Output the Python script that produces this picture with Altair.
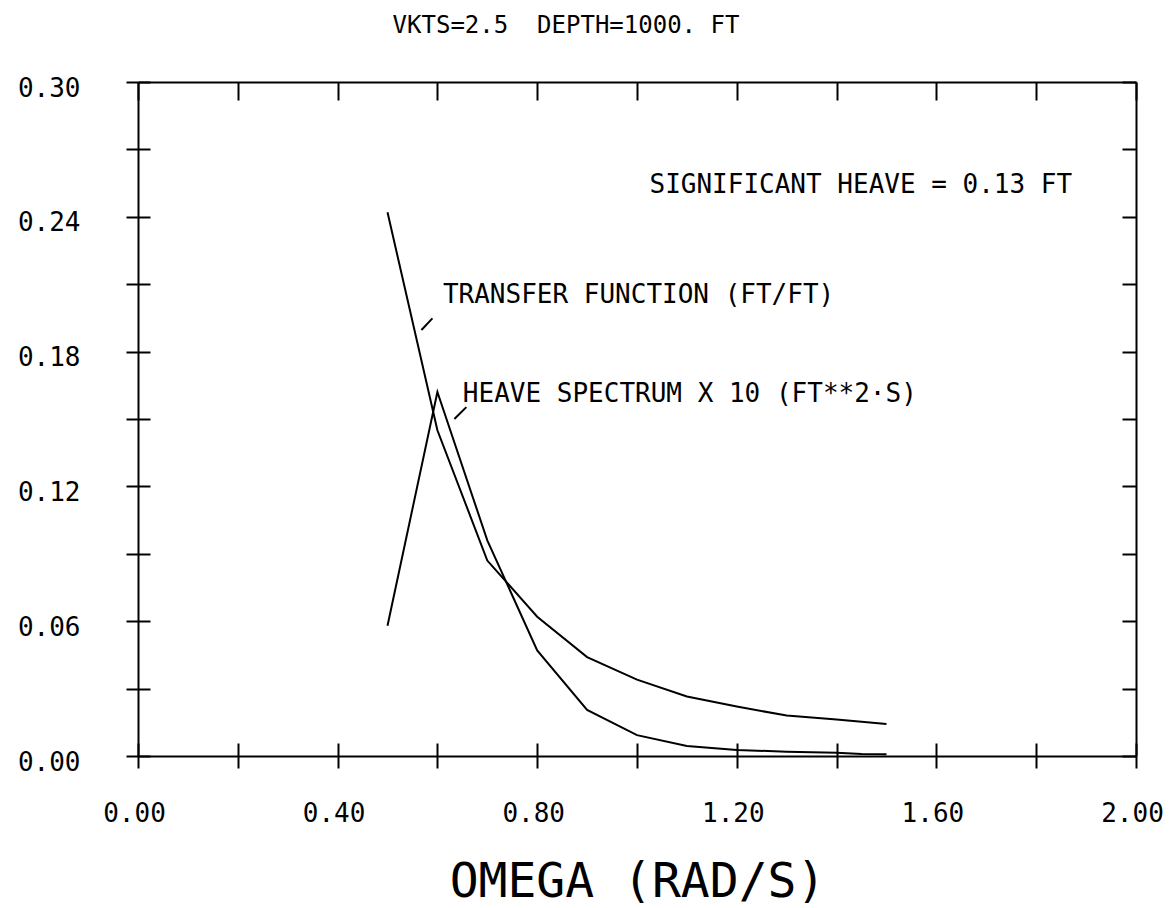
import altair as alt
import pandas as pd

# ---- data ----
tf_omega = [0.5, 0.6, 0.7, 0.8, 0.9, 1.0, 1.1, 1.2, 1.3, 1.4, 1.5]
tf_value = [0.242, 0.145, 0.087, 0.062, 0.044, 0.034, 0.0265, 0.022, 0.018, 0.0163, 0.0142]

hv_omega = [0.5, 0.6, 0.7, 0.8, 0.9, 1.0, 1.1, 1.2, 1.3, 1.4, 1.45, 1.5]
hv_value = [0.058, 0.162, 0.096, 0.047, 0.0205, 0.0093, 0.0045, 0.0027, 0.0019, 0.0015, 0.0009, 0.0008]

x_ticks = [0.0, 0.2, 0.4, 0.6, 0.8, 1.0, 1.2, 1.4, 1.6, 1.8, 2.0]
y_ticks = [0.0, 0.03, 0.06, 0.09, 0.12, 0.15, 0.18, 0.21, 0.24, 0.27, 0.30]

label_text = ["TRANSFER FUNCTION (FT/FT)", "HEAVE SPECTRUM X 10 (FT**2\u00b7S)"]
label_x = [0.611, 0.651]
label_y = [0.2016, 0.1575]

leader_x = [0.568, 0.634]
leader_x2 = [0.590, 0.658]
leader_y = [0.1896, 0.1500]
leader_y2 = [0.1948, 0.1553]

sig_text = ["SIGNIFICANT HEAVE = 0.13 FT"]
sig_x = [1.872]
sig_y = [0.2505]

title_text = "VKTS=2.5\u00a0\u00a0DEPTH=1000.\u00a0FT"

FONT = "DejaVu Sans Mono"

lines_df = pd.concat([
    pd.DataFrame({"omega": tf_omega, "value": tf_value, "series": "Transfer function"}),
    pd.DataFrame({"omega": hv_omega, "value": hv_value, "series": "Heave spectrum x 10"}),
])
labels_df = pd.DataFrame({"text": label_text, "x": label_x, "y": label_y})
leaders_df = pd.DataFrame({"x": leader_x, "x2": leader_x2, "y": leader_y, "y2": leader_y2})
sig_df = pd.DataFrame({"text": sig_text, "x": sig_x, "y": sig_y})

xscale = alt.Scale(domain=[0, 2.0], nice=False, zero=False)
yscale = alt.Scale(domain=[0, 0.30], nice=False, zero=False)

x_label_expr = "round(datum.value*10) % 4 == 0 ? format(datum.value, '.2f') : ''"
y_label_expr = "round(datum.value*100) % 6 == 0 ? format(datum.value, '.2f') : ''"

common_axis = dict(
    domain=True, domainColor="black", domainWidth=2, domainOpacity=1,
    tickColor="black", tickWidth=2,
    grid=True, gridColor="black", gridWidth=2, gridOpacity=1,
    labelFont=FONT, labelFontSize=26, labelColor="black",
    labelFlush=False,
)

x_bottom = alt.Axis(
    orient="bottom", values=x_ticks, labelExpr=x_label_expr,
    tickSize=12, gridDash=[18, 4000], labelPadding=32, labelOffset=-4,
    title="OMEGA (RAD/S)", titleFont=FONT, titleFontSize=48,
    titleFontWeight="normal", titleColor="black", titlePadding=32,
    **common_axis,
)
y_left = alt.Axis(
    orient="left", values=y_ticks, labelExpr=y_label_expr,
    tickSize=12, gridDash=[12, 4000], labelPadding=46, labelOffset=6,
    title=None, **common_axis,
)
x_top = alt.Axis(
    orient="top", values=x_ticks, labels=False, ticks=False,
    gridDash=[13, 4000], title=None, **common_axis,
)
y_right = alt.Axis(
    orient="right", values=y_ticks, labels=False, ticks=False,
    gridDash=[14, 4000], title=None, **common_axis,
)

lines = alt.Chart(lines_df).mark_line(color="black", strokeWidth=2).encode(
    x=alt.X("omega:Q", scale=xscale, axis=x_bottom),
    y=alt.Y("value:Q", scale=yscale, axis=y_left),
    detail="series:N",
)

leaders = alt.Chart(leaders_df).mark_rule(color="black", strokeWidth=2).encode(
    x=alt.X("x:Q", scale=xscale, axis=x_top),
    x2="x2:Q",
    y=alt.Y("y:Q", scale=yscale, axis=y_right),
    y2="y2:Q",
)

labels = alt.Chart(labels_df).mark_text(
    align="left", baseline="alphabetic", font=FONT, fontSize=26, color="black"
).encode(
    x=alt.X("x:Q", scale=xscale, axis=None),
    y=alt.Y("y:Q", scale=yscale, axis=None),
    text="text:N",
)

sig = alt.Chart(sig_df).mark_text(
    align="right", baseline="alphabetic", font=FONT, fontSize=26, color="black"
).encode(
    x=alt.X("x:Q", scale=xscale, axis=None),
    y=alt.Y("y:Q", scale=yscale, axis=None),
    text="text:N",
)

chart = alt.layer(lines, leaders, labels, sig).resolve_axis(
    x="independent", y="independent"
).properties(
    width=998, height=674,
    title=alt.TitleParams(
        text=title_text, font=FONT, fontSize=24, fontWeight="normal",
        color="black", anchor="middle", dx=-71, offset=37,
    ),
    padding={"left": 17, "top": 14, "right": 2, "bottom": 0},
).configure_view(
    stroke=None
).configure(background="white")

chart.save("out.html", embed_options={"renderer": "svg", "actions": False})
